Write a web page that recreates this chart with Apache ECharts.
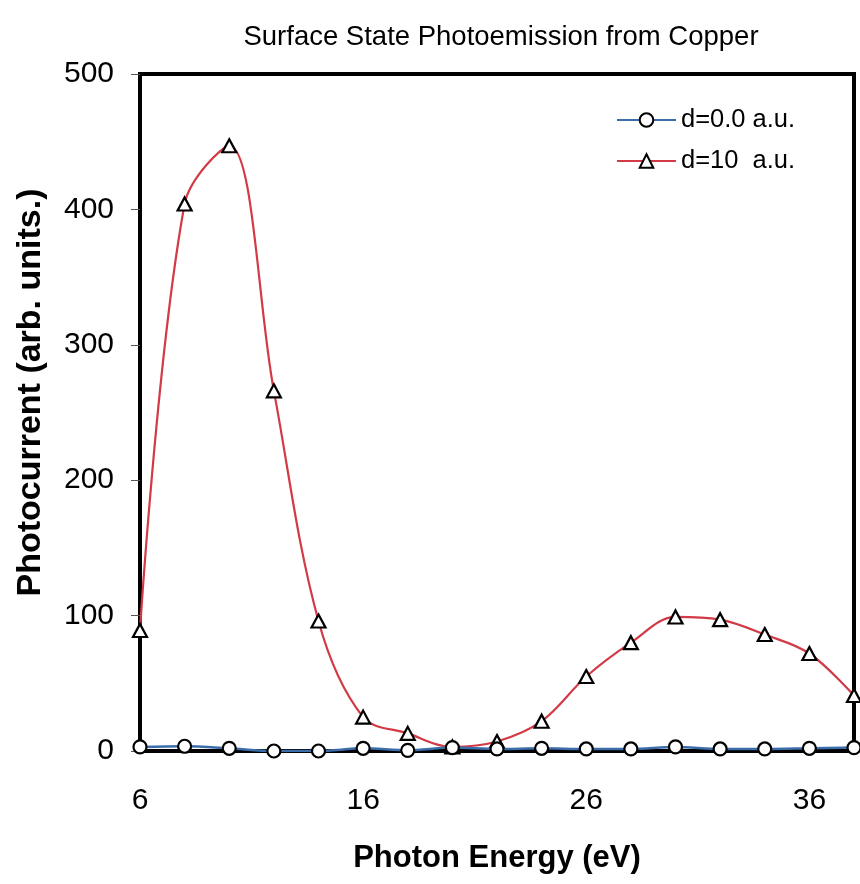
<!DOCTYPE html>
<html>
<head>
<meta charset="utf-8">
<script src="https://cdn.jsdelivr.net/npm/echarts@6/dist/echarts.min.js"></script>
<style>
html,body{margin:0;padding:0;background:#fff;}
#c{width:860px;height:884px;}
</style>
</head>
<body>
<div id="c"></div>
<script>
var energy = [6, 8, 10, 12, 14, 16, 18, 20, 22, 24, 26, 28, 30, 32, 34, 36, 38];
var d0 = [3, 3.5, 2, 0, 0, 2, 0.5, 2.5, 1.5, 2, 1.5, 1.5, 3, 1.5, 1.5, 2, 2.5];
var d10 = [89, 404, 447, 266, 96, 25, 13, 3, 7, 22, 55, 80, 99, 97, 86, 72, 41];
var xTicks = [6, 16, 26, 36];
var yTicks = [0, 100, 200, 300, 400, 500];
var seriesNames = ['d=0.0 a.u.', 'd=10  a.u.'];
var titleText = 'Surface State Photoemission from Copper';
var xName = 'Photon Energy (eV)';
var yName = 'Photocurrent (arb. units.)';

function pairs(xs, ys) { return xs.map(function (x, i) { return [x, ys[i]]; }); }

var FONT = "'Liberation Sans', Arial, sans-serif";
var chart = echarts.init(document.getElementById('c'), null, {renderer: 'canvas'});
chart.setOption({
  animation: false,
  backgroundColor: '#fff',
  title: {
    text: titleText,
    left: 496, top: 18, textAlign: 'center',
    textStyle: {fontFamily: FONT, fontSize: 27.5, fontWeight: 'normal', color: '#000'}
  },
  legend: {
    orient: 'vertical',
    left: 616, top: 107, padding: 0,
    itemWidth: 59, itemHeight: 17, itemGap: 15,
    textStyle: {fontFamily: FONT, fontSize: 25.5, color: '#000'},
    data: seriesNames
  },
  grid: {
    left: 140, right: 6, top: 74, bottom: 133,
    show: true, borderColor: '#000', borderWidth: 4, containLabel: false
  },
  xAxis: {
    type: 'value', min: xTicks[0], max: 38, interval: xTicks[1] - xTicks[0],
    axisLine: {show: true, onZero: false, lineStyle: {color: '#000', width: 4}},
    axisTick: {show: false},
    splitLine: {show: false},
    axisLabel: {margin: 35, fontFamily: FONT, fontSize: 30, color: '#000', showMaxLabel: false,
      formatter: function (v) { return xTicks.indexOf(v) >= 0 ? String(v) : ''; }},
    name: xName, nameLocation: 'middle', nameGap: 92,
    nameTextStyle: {fontFamily: FONT, fontSize: 31, fontWeight: 'bold', color: '#000'}
  },
  yAxis: {
    type: 'value', min: yTicks[0], max: yTicks[yTicks.length - 1], interval: yTicks[1] - yTicks[0],
    axisLine: {show: true, lineStyle: {color: '#000', width: 4}},
    axisTick: {show: true, inside: false, length: 9, lineStyle: {color: '#555', width: 1}},
    splitLine: {show: false},
    axisLabel: {margin: 26, fontFamily: FONT, fontSize: 30, color: '#000'},
    name: yName, nameLocation: 'middle', nameGap: 92, nameRotate: 90,
    nameTextStyle: {fontFamily: FONT, fontSize: 34, fontWeight: 'bold', color: '#000', padding: [0, 0, 0, 40]}
  },
  series: [
    {
      name: seriesNames[0], type: 'line', smooth: 0.3,
      data: pairs(energy, d0),
      symbol: 'circle', symbolSize: 13,
      lineStyle: {color: '#3b6ea8', width: 2.5},
      itemStyle: {color: '#fff', borderColor: '#000', borderWidth: 2.2},
      z: 4
    },
    {
      name: seriesNames[1], type: 'line', smooth: 0.35,
      data: pairs(energy, d10),
      symbol: 'triangle', symbolSize: [14, 13],
      lineStyle: {color: '#d23a46', width: 2.2},
      itemStyle: {color: '#fff', borderColor: '#000', borderWidth: 2.2},
      z: 3
    }
  ]
});
</script>
</body>
</html>
